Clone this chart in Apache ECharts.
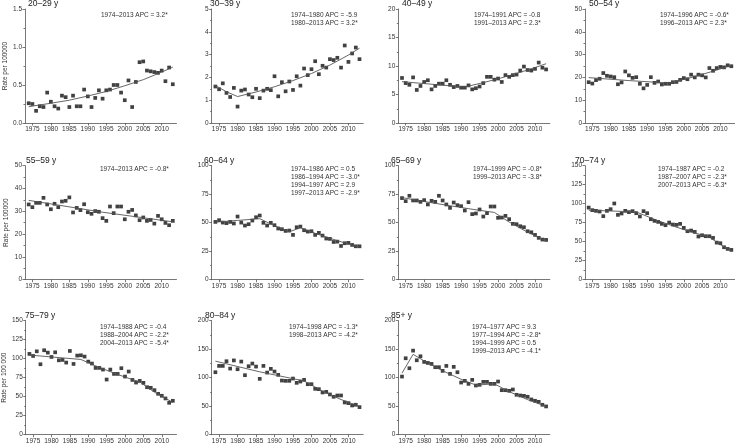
<!DOCTYPE html>
<html><head><meta charset="utf-8">
<script src="https://cdn.jsdelivr.net/npm/echarts@6/dist/echarts.min.js"></script>
<style>html,body{margin:0;padding:0;background:#fff}#c{width:735px;height:445px}</style>
</head><body><div id="c"></div>
<script>
// ---------------- DATA ----------------
const years = [1974,1975,1976,1977,1978,1979,1980,1981,1982,1983,1984,1985,1986,1987,1988,1989,1990,1991,1992,1993,1994,1995,1996,1997,1998,1999,2000,2001,2002,2003,2004,2005,2006,2007,2008,2009,2010,2011,2012,2013];
const yearTicks = [1975,1980,1985,1990,1995,2000,2005,2010];

const ageGroups = ['20–29 y','30–39 y','40–49 y','50–54 y','55–59 y','60–64 y','65–69 y','70–74 y','75–79 y','80–84 y','85+ y'];

const rate_20_29 = [0.26,0.25,0.16,0.22,0.21,0.40,0.28,0.22,0.19,0.36, 0.34,0.21,0.36,0.22,0.22,0.44,0.35,0.21,0.33,0.43, 0.32,0.43,0.44,0.50,0.50,0.40,0.30,0.56,0.21,0.54, 0.80,0.81,0.69,0.68,0.67,0.66,0.69,0.55,0.73,0.51];
const rate_30_39 = [1.60,1.48,1.74,1.32,1.14,1.54,0.72,1.42,1.47,1.25, 1.13,1.50,1.09,1.42,1.50,1.44,2.05,1.17,1.79,1.39, 1.82,1.45,2.05,1.64,2.39,2.10,2.36,2.71,2.14,2.51, 2.43,2.80,2.76,2.86,2.43,3.40,2.68,3.05,3.31,2.80];
const rate_40_49 = [7.9,7.0,6.7,8.0,5.8,6.5,7.2,7.5,5.9,6.5, 6.9,6.9,7.5,6.7,6.3,6.5,6.2,6.2,6.6,5.9, 6.1,6.4,7.0,8.1,8.1,7.6,7.8,7.2,8.4,8.1, 8.4,8.5,9.2,9.9,9.3,9.2,9.5,10.6,9.7,9.4];
const rate_50_54 = [17.9,17.3,18.8,19.4,21.9,20.7,20.4,20.1,17.0,17.8, 22.6,20.9,19.8,20.1,17.2,15.2,16.7,20.1,17.6,18.2, 16.9,17.2,17.2,17.9,18.0,18.9,19.7,19.2,21.2,20.0, 21.2,20.9,20.0,24.1,22.9,24.1,24.6,24.4,25.3,24.9];
const rate_55_59 = [33.0,31.8,33.7,33.7,35.9,33.0,30.9,33.3,31.8,34.3, 34.6,36.1,29.5,31.5,30.5,33.1,29.6,28.9,30.1,29.8, 27.0,25.8,32.1,29.2,32.1,32.1,26.5,29.8,30.6,28.2, 26.1,27.3,25.8,26.2,24.6,28.0,26.5,24.9,23.9,25.8];
const rate_60_64 = [50.7,52.2,50.1,49.6,50.7,49.3,55.4,50.1,47.5,48.7, 51.9,54.8,56.3,49.9,47.5,49.9,47.8,44.9,44.3,42.8, 43.1,39.3,46.0,46.6,43.4,42.2,42.5,39.3,41.1,38.7, 36.1,35.8,33.1,33.4,29.6,32.0,32.3,30.5,29.3,29.3];
const rate_65_69 = [71.6,68.9,73.6,69.5,69.5,68.3,69.8,66.0,69.2,68.3, 73.6,69.5,66.0,63.0,67.7,65.4,64.5,60.7,68.0,57.5, 58.1,61.6,55.4,58.4,64.2,64.2,54.3,54.5,56.0,53.1, 49.0,48.7,46.9,46.0,42.5,41.6,39.3,36.7,35.2,34.9];
const rate_70_74 = [94.9,91.5,90.6,89.7,83.6,90.6,92.8,100.3,85.3,87.1, 90.6,88.9,90.2,87.5,83.2,90.2,87.5,79.6,77.4,76.1, 73.5,71.7,75.2,72.6,72.2,73.5,68.2,63.8,64.7,62.9, 56.8,58.5,57.2,57.2,55.0,48.8,48.0,42.7,40.5,39.2];
const rate_75_79 = [106.3,103.6,109.7,92.7,111.1,108.0,102.3,108.4,97.9,98.4, 94.9,110.2,93.1,104.1,104.5,102.8,96.2,93.6,87.9,87.9, 85.7,72.6,85.7,80.0,80.0,87.5,76.5,83.1,72.1,68.6, 70.8,68.2,62.5,61.7,58.6,53.8,51.2,47.7,42.0,44.6];
const rate_80_84 = [109.6,120.7,120.7,128.9,116.0,130.3,114.9,128.3,104.4,120.1, 124.8,119.5,98.0,120.7,109.0,115.5,110.8,105.0,95.0,94.5, 94.5,98.5,91.0,93.3,96.2,88.6,88.6,80.5,79.9,74.1, 75.2,70.6,66.5,68.8,68.8,56.6,55.4,51.3,52.5,48.4];
const rate_85plus = [102.0,134.1,116.6,147.5,130.6,137.6,127.7,125.9,124.2,118.4, 118.4,112.0,120.7,106.7,119.0,109.6,91.5,94.5,89.2,96.2, 86.3,87.5,92.7,92.7,89.2,89.2,93.3,78.1,78.1,77.0, 79.3,70.0,68.8,68.2,66.5,61.8,59.5,57.7,52.5,49.6];

// joinpoint trend lines
const trendYears_20_29 = [1974,1980,1985,1990,1995,2000,2005,2010,2013];
const trendRates_20_29 = [0.215,0.26,0.30,0.355,0.415,0.49,0.57,0.67,0.735];
const trendYears_30_39 = [1974,1977,1980,1985,1990,1995,2000,2005,2010,2013];
const trendRates_30_39 = [1.64,1.37,1.16,1.36,1.59,1.86,2.17,2.54,2.98,3.28];
const trendYears_40_49 = [1974,1983,1991,1996,2001,2006,2010,2013];
const trendRates_40_49 = [7.25,6.75,6.32,7.08,7.93,8.89,9.73,10.4];
const trendYears_50_54 = [1974,1985,1996,2001,2005,2009,2013];
const trendRates_50_54 = [19.9,18.6,17.5,19.5,21.3,23.2,25.3];
const trendYears_55_59 = [1974,1994,2013];
const trendRates_55_59 = [34.8,29.6,25.4];
const trendYears_60_64 = [1974,1980,1986,1990,1994,1997,2001,2005,2009,2013];
const trendRates_60_64 = [50.5,52.0,53.5,47.4,42.0,45.6,40.7,36.3,32.3,28.8];
const trendYears_65_69 = [1974,1980,1986,1992,1999,2003,2008,2013];
const trendRates_65_69 = [72.0,68.6,65.4,62.3,59.0,50.6,41.6,34.3];
const trendYears_70_74 = [1974,1987,1992,1997,2002,2007,2010,2013];
const trendRates_70_74 = [91.5,89.2,79.4,70.7,62.9,56.0,46.1,37.9];
const trendYears_75_79 = [1974,1988,1992,1996,2000,2004,2008,2013];
const trendRates_75_79 = [104.8,99.0,90.6,82.9,75.8,69.4,55.9,42.5];
const trendYears_80_84 = [1974,1986,1998,2003,2008,2013];
const trendRates_80_84 = [129.0,110.3,94.3,76.3,61.7,49.5];
const trendYears_85plus = [1974,1977,1981,1985,1990,1994,1999,2003,2008,2013];
const trendRates_85plus = [108,141,125.6,112.1,97.3,87.0,89.2,75.5,61.5,49.6];

const apc_20_29 = ['1974–2013 APC = 3.2*'];
const apc_30_39 = ['1974–1980 APC = -5.9','1980–2013 APC = 3.2*'];
const apc_40_49 = ['1974–1991 APC = -0.8','1991–2013 APC = 2.3*'];
const apc_50_54 = ['1974–1996 APC = -0.6*','1996–2013 APC = 2.3*'];
const apc_55_59 = ['1974–2013 APC = -0.8*'];
const apc_60_64 = ['1974–1986 APC = 0.5','1986–1994 APC = -3.0*','1994–1997 APC = 2.9','1997–2013 APC = -2.9*'];
const apc_65_69 = ['1974–1999 APC = -0.8*','1999–2013 APC = -3.8*'];
const apc_70_74 = ['1974–1987 APC = -0.2','1987–2007 APC = -2.3*','2007–2013 APC = -6.3*'];
const apc_75_79 = ['1974–1988 APC = -0.4','1988–2004 APC = -2.2*','2004–2013 APC = -5.4*'];
const apc_80_84 = ['1974–1998 APC = -1.3*','1998–2013 APC = -4.2*'];
const apc_85plus = ['1974–1977 APC = 9.3','1977–1994 APC = -2.8*','1994–1999 APC = 0.5','1999–2013 APC = -4.1*'];

const yMax  = [1.5,5,20,50,50,100,100,150,150,200,200];
const yStep = [0.5,1,5,10,10,25,25,25,25,50,50];
const yAxisTitles = ['Rate per 100000','Rate per 100000','Rate per 100 000'];

// ---------------- LAYOUT ----------------
const rates = [rate_20_29,rate_30_39,rate_40_49,rate_50_54,rate_55_59,rate_60_64,rate_65_69,rate_70_74,rate_75_79,rate_80_84,rate_85plus];
const tYears = [trendYears_20_29,trendYears_30_39,trendYears_40_49,trendYears_50_54,trendYears_55_59,trendYears_60_64,trendYears_65_69,trendYears_70_74,trendYears_75_79,trendYears_80_84,trendYears_85plus];
const tRates = [trendRates_20_29,trendRates_30_39,trendRates_40_49,trendRates_50_54,trendRates_55_59,trendRates_60_64,trendRates_65_69,trendRates_70_74,trendRates_75_79,trendRates_80_84,trendRates_85plus];
const apcs = [apc_20_29,apc_30_39,apc_40_49,apc_50_54,apc_55_59,apc_60_64,apc_65_69,apc_70_74,apc_75_79,apc_80_84,apc_85plus];

const colLeft = [25, 211.7, 398.3, 585];
const gridW = 151.5;
const rowTop = [9, 165.7, 320.7];
const gridH = 114;
const titleX = [28,210,402,589,26,204,391,575,25,205,391];
const titleY = [4,160.7,315.7];
const annoX = [101,291,474,660,100,291,473,658,100,289,472];
const annoY = [15.7,169.7,327.7];
const annoStep = 8;

const FONT = '"Liberation Sans", Arial, Helvetica, sans-serif';
const axisCol = '#555';
const txtCol = '#333';

const grids = [], xAxes = [], yAxes = [], series = [], graphics = [];
for (let i = 0; i < 11; i++) {
  const r = Math.floor(i / 4), c = i % 4;
  grids.push({left: colLeft[c], top: rowTop[r], width: gridW, height: gridH, containLabel: false});
  xAxes.push({
    type: 'value', gridIndex: i, min: 1973, max: 2014,
    axisLine: {show: true, onZero: false, lineStyle: {color: axisCol, width: 0.8}},
    axisTick: {show: true, length: 2.5, customValues: yearTicks, lineStyle: {color: axisCol, width: 0.8}},
    axisLabel: {customValues: yearTicks, fontSize: 6.5, color: txtCol, fontFamily: FONT, margin: 3,
      formatter: v => String(v)},
    splitLine: {show: false}
  });
  yAxes.push({
    type: 'value', gridIndex: i, min: 0, max: yMax[i], interval: yStep[i],
    axisLine: {show: true, lineStyle: {color: axisCol, width: 0.8}},
    axisTick: {show: true, length: 2.5, lineStyle: {color: axisCol, width: 0.8}},
    minorTick: {show: true, splitNumber: 2, length: 1.5, lineStyle: {color: axisCol, width: 0.8}},
    axisLabel: {fontSize: 6.5, color: txtCol, fontFamily: FONT, margin: 3,
      formatter: i === 0 ? (v => v.toFixed(1)) : (v => String(v))},
    splitLine: {show: false},
    name: c === 0 ? yAxisTitles[r] : '',
    nameLocation: 'middle', nameRotate: 90, nameGap: 15,
    nameTextStyle: {fontSize: 6.5, color: txtCol, fontFamily: FONT}
  });
  series.push({
    type: 'scatter', xAxisIndex: i, yAxisIndex: i, symbol: 'rect', symbolSize: 3.7,
    itemStyle: {color: '#111'}, silent: true,
    data: years.map((y, k) => [y, rates[i][k]])
  });
  series.push({
    type: 'line', xAxisIndex: i, yAxisIndex: i, showSymbol: false, silent: true,
    lineStyle: {color: '#555', width: 0.9},
    data: tYears[i].map((y, k) => [y, tRates[i][k]])
  });
  graphics.push({type: 'text', x: titleX[i], y: titleY[r],
    style: {text: ageGroups[i], fill: '#222', font: '8.5px ' + FONT, verticalAlign: 'middle'}});
  apcs[i].forEach((t, k) => {
    graphics.push({type: 'text', x: annoX[i], y: annoY[r] + k * annoStep,
      style: {text: t, fill: txtCol, font: '6.5px ' + FONT, verticalAlign: 'middle'}});
  });
}

const chart = echarts.init(document.getElementById('c'), null, {renderer: 'canvas'});
chart.setOption({
  animation: false,
  backgroundColor: '#fff',
  grid: grids, xAxis: xAxes, yAxis: yAxes, series: series, graphic: graphics
});
</script></body></html>
